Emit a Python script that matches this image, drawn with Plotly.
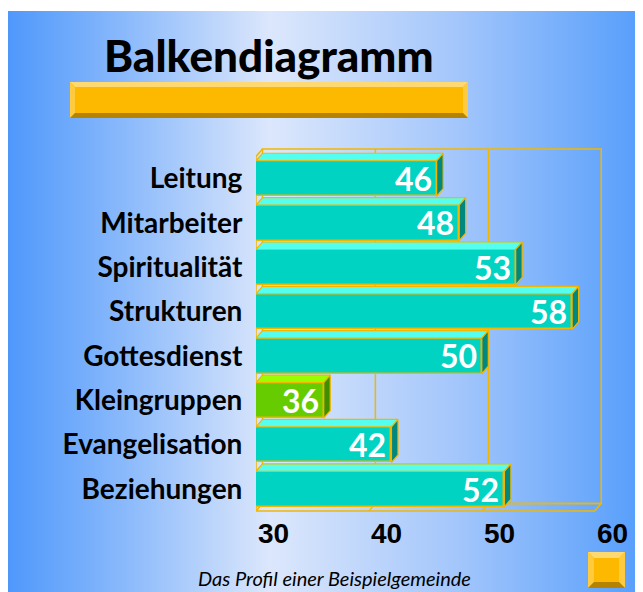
import base64
import plotly.graph_objects as go

# ---------------- data ----------------
categories = ["Leitung", "Mitarbeiter", "Spiritualität", "Strukturen",
              "Gottesdienst", "Kleingruppen", "Evangelisation", "Beziehungen"]
values = [46, 48, 53, 58, 50, 36, 42, 52]
x_ticks = [30, 40, 50, 60]
x_tick_labels = ["30", "40", "50", "60"]
title_text = "Balkendiagramm"
caption_text = "Das Profil einer Beispielgemeinde"

# ---------------- geometry ----------------
W, H = 643, 592
OFF = 8  # page body margin


def PX(px):
    return (px - OFF) / W


def PY(py):
    return 1 - (py - OFF) / H


plot_l, plot_r, plot_t, plot_b = 256, 602, 140, 520
x_unit_px = 11.29
y_unit_px = 44.36
x_min = x_ticks[0]
x_front_max = x_ticks[-1]
x_max = x_min + (plot_r - plot_l) / x_unit_px
y_top = -0.868
y_bottom = y_top + (plot_b - plot_t) / y_unit_px

dxu = 6.5 / x_unit_px      # depth offset (x, data units)
dyu = 7.5 / y_unit_px      # depth offset (y, category units)
half = 0.4                 # half bar thickness
wall_top = y_top + 9 / y_unit_px
floor_front = y_top + 371 / y_unit_px
floor_back = floor_front - dyu

GOLD = "#F2B600"
TEAL_FRONT, TEAL_TOP, TEAL_SIDE = "#00D3C2", "#55FFF0", "#00877E"
GREEN_FRONT, GREEN_TOP, GREEN_SIDE = "#66CC00", "#99FF00", "#3E8F00"

low = values.index(min(values))
ypos = list(range(len(categories)))

fig = go.Figure()

# front faces
front_colors = [GREEN_FRONT if i == low else TEAL_FRONT for i in ypos]
fig.add_trace(go.Bar(
    y=ypos, x=values, orientation="h", width=2 * half,
    marker=dict(color=front_colors, line=dict(color=GOLD, width=1.5)),
    hoverinfo="skip", showlegend=False,
))

# top and side faces
for i, (c, v) in enumerate(zip(ypos, values)):
    top_col = GREEN_TOP if i == low else TEAL_TOP
    side_col = GREEN_SIDE if i == low else TEAL_SIDE
    fig.add_trace(go.Scatter(
        x=[x_min, v, v + dxu, x_min + dxu, x_min],
        y=[c - half, c - half, c - half - dyu, c - half - dyu, c - half],
        mode="lines", fill="toself", fillcolor=top_col,
        line=dict(color=GOLD, width=1.2), hoverinfo="skip", showlegend=False))
    fig.add_trace(go.Scatter(
        x=[v, v + dxu, v + dxu, v, v],
        y=[c - half, c - half - dyu, c + half - dyu, c + half, c - half],
        mode="lines", fill="toself", fillcolor=side_col,
        line=dict(color=GOLD, width=1.2), hoverinfo="skip", showlegend=False))

shapes = []
# back wall
shapes.append(dict(type="rect", xref="x", yref="y", layer="below",
                   x0=x_min + dxu, x1=x_front_max + dxu, y0=wall_top, y1=floor_back,
                   line=dict(color=GOLD, width=1.5)))
for t in x_ticks[1:-1]:
    shapes.append(dict(type="line", xref="x", yref="y", layer="below",
                       x0=t + dxu, x1=t + dxu, y0=wall_top, y1=floor_back,
                       line=dict(color=GOLD, width=1.5)))
    shapes.append(dict(type="line", xref="x", yref="y", layer="below",
                       x0=t, x1=t + dxu, y0=floor_front, y1=floor_back,
                       line=dict(color=GOLD, width=1.2)))
# floor
shapes.append(dict(type="path", xref="x", yref="y", layer="below",
                   path=(f"M{x_min},{floor_front} L{x_front_max},{floor_front} "
                         f"L{x_front_max + dxu},{floor_back} L{x_min + dxu},{floor_back} Z"),
                   line=dict(color=GOLD, width=1.5)))
# left wall edges
shapes.append(dict(type="path", xref="x", yref="y", layer="below",
                   path=(f"M{x_min},{floor_front} L{x_min},{wall_top + dyu} "
                         f"L{x_min + dxu},{wall_top}"),
                   line=dict(color=GOLD, width=1.5)))


def bevel_box(x0, y0, x1, y1, b, main, light, mid, dark):
    out = []
    X0, X1, Y0, Y1 = PX(x0), PX(x1), PY(y0), PY(y1)
    bx, by = b / W, b / H
    out.append(dict(type="rect", xref="paper", yref="paper", x0=X0, x1=X1, y0=Y1, y1=Y0,
                    fillcolor=main, line=dict(width=0)))
    polys = [
        ([(X0, Y0), (X1, Y0), (X1 - bx, Y0 - by), (X0 + bx, Y0 - by)], light),
        ([(X0, Y0), (X0 + bx, Y0 - by), (X0 + bx, Y1 + by), (X0, Y1)], mid),
        ([(X1, Y0), (X1, Y1), (X1 - bx, Y1 + by), (X1 - bx, Y0 - by)], mid),
        ([(X0, Y1), (X1, Y1), (X1 - bx, Y1 + by), (X0 + bx, Y1 + by)], dark),
    ]
    for pts, col in polys:
        p = "M" + " L".join(f"{a:.5f},{bb:.5f}" for a, bb in pts) + " Z"
        out.append(dict(type="path", xref="paper", yref="paper", path=p,
                        fillcolor=col, line=dict(width=0)))
    return out


shapes += bevel_box(70, 82, 468, 118, 5, "#FDB900", "#FED870", "#FDCA40", "#B58300")
shapes += bevel_box(588, 552, 625, 588, 6, "#FDB900", "#FED870", "#FDCA40", "#B58300")

annotations = []
# value labels
for c, v in zip(ypos, values):
    annotations.append(dict(x=v, y=c, xref="x", yref="y", text=str(v),
                            xanchor="right", yanchor="middle", xshift=-3, showarrow=False,
                            font=dict(family="Lato", size=32, color="white", weight="bold")))
# x tick labels
for t, lab in zip(x_ticks, x_tick_labels):
    annotations.append(dict(x=t, y=PY(533), xref="x", yref="paper", text=lab,
                            xanchor="left", yanchor="middle", showarrow=False,
                            font=dict(family="Liberation Sans", size=28, color="black",
                                      weight="bold")))
# title and caption
annotations.append(dict(x=PX(269), y=PY(55), xref="paper", yref="paper", text=title_text,
                        xanchor="center", yanchor="middle", showarrow=False,
                        font=dict(family="Lato", size=44, color="black", weight=900)))
annotations.append(dict(x=PX(334), y=PY(578), xref="paper", yref="paper", text=caption_text,
                        xanchor="center", yanchor="middle", showarrow=False,
                        font=dict(family="Lato", size=20, color="black", style="italic")))

# background gradient
svg = (
    '<svg xmlns="http://www.w3.org/2000/svg" width="635" height="581" preserveAspectRatio="none">'
    '<defs><linearGradient id="g" x1="0" y1="0" x2="1" y2="0">'
    '<stop offset="0" stop-color="#4F98FB"/>'
    '<stop offset="0.19" stop-color="#8DBBFB"/>'
    '<stop offset="0.408" stop-color="#DCE7FC"/>'
    '<stop offset="0.70" stop-color="#A3C6FB"/>'
    '<stop offset="1" stop-color="#529CFB"/>'
    '</linearGradient></defs>'
    '<rect width="635" height="581" fill="url(#g)"/></svg>'
)
src = "data:image/svg+xml;base64," + base64.b64encode(svg.encode()).decode()

fig.update_layout(
    template="none",
    width=W, height=H,
    margin=dict(l=0, r=0, t=0, b=0),
    paper_bgcolor="white",
    plot_bgcolor="rgba(0,0,0,0)",
    showlegend=False,
    bargap=0,
    shapes=shapes,
    annotations=annotations,
    images=[dict(source=src, xref="paper", yref="paper", x=PX(8), y=PY(11),
                 sizex=1.0 - PX(8), sizey=PY(11), xanchor="left", yanchor="top",
                 sizing="stretch", layer="below")],
    xaxis=dict(domain=[PX(plot_l), PX(plot_r)], range=[x_min, x_max],
               showgrid=False, zeroline=False, showline=False, showticklabels=False,
               ticks="", automargin=False, fixedrange=True),
    yaxis=dict(domain=[PY(plot_b), PY(plot_t)], range=[y_bottom, y_top],
               tickmode="array", tickvals=ypos, ticktext=categories,
               ticks="outside", ticklen=7, tickcolor="rgba(0,0,0,0)",
               tickfont=dict(family="Lato", size=28, color="black", weight="bold"),
               showgrid=False, zeroline=False, showline=False, automargin=False,
               fixedrange=True),
)

fig.write_html("out.html")
